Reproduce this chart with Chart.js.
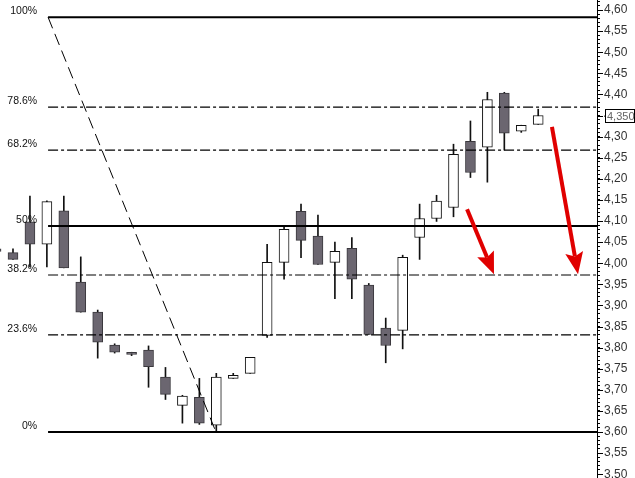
<!DOCTYPE html>
<html>
<head>
<meta charset="utf-8">
<script src="https://cdn.jsdelivr.net/npm/chart.js@4.4.1/dist/chart.umd.min.js"></script>
<style>
  html, body { margin: 0; padding: 0; background: #fff; }
  canvas { display: block; }
</style>
</head>
<body>
<canvas id="fibChart" width="635" height="478"></canvas>
<script>
// ----- Candles (bar number = array position, bar 0 is cut by the left edge) -----

const opens  = [4.034, 4.025, 4.098, 4.045, 4.124, 3.955, 3.884, 3.806, 3.789, 3.794, 3.730,
                3.663, 3.682, 3.616, 3.727, 3.739, 3.829, 4.002, 4.123, 4.064, 4.002, 4.035,
                3.948, 3.846, 3.841, 4.061, 4.106, 4.132, 4.289, 4.275, 4.403, 4.313, 4.329];
const highs  = [4.034, 4.034, 4.159, 4.148, 4.159, 4.015, 3.889, 3.809, 3.789, 3.804, 3.753,
                3.687, 3.727, 3.739, 3.739, 3.777, 4.045, 4.086, 4.140, 4.114, 4.050, 4.061,
                3.952, 3.870, 4.019, 4.140, 4.161, 4.282, 4.337, 4.405, 4.405, 4.327, 4.365];
const lows   = [4.028, 4.009, 3.991, 3.991, 3.989, 3.884, 3.775, 3.787, 3.781, 3.706, 3.677,
                3.621, 3.618, 3.601, 3.727, 3.739, 3.824, 3.962, 4.013, 3.997, 3.916, 3.916,
                3.831, 3.764, 3.797, 4.009, 4.099, 4.110, 4.203, 4.192, 4.268, 4.310, 4.329];
const closes = [4.028, 4.009, 4.045, 4.146, 3.989, 3.884, 3.813, 3.789, 3.784, 3.755, 3.689,
                3.685, 3.621, 3.730, 3.734, 3.777, 4.002, 4.080, 4.054, 3.997, 4.028, 3.962,
                3.831, 3.805, 4.014, 4.106, 4.147, 4.258, 4.215, 4.388, 4.308, 4.327, 4.350];

// ----- Fibonacci retracement -----

const fibLevels = [4.583, 4.370, 4.268, 4.088, 3.972, 3.830, 3.600];
const fibLabels = ["100%", "78.6%", "68.2%", "50%", "38.2%", "23.6%", "0%"];
const fibFromBar = 3.07;   // swing high anchor
const fibToBar   = 12.98;  // swing low anchor

// ----- Arrows (bar, price) -----

const arrowFrom = [[27.80, 4.128], [32.81, 4.323]];
const arrowTo   = [[29.39, 3.974], [34.35, 3.974]];

// ----- Right axis -----

const tickLabels = ["4,60", "4,55", "4,50", "4,45", "4,40", "4,35", "4,30", "4,25", "4,20",
                    "4,15", "4,10", "4,05", "4,00", "3,95", "3,90", "3,85", "3,80", "3,75",
                    "3,70", "3,65", "3,60", "3,55", "3,50"];
const lastPrice = 4.350;
const lastPriceLabel = "4,350";

const X_MIN = 0.233, X_MAX = 35.47;
const Y_MIN = 3.491, Y_MAX = 4.6237;
const DARK = "#6b6670";

const bars = opens.map((o, i) => i);

const overlay = {
  id: "overlay",
  afterDatasetsDraw(chart) {
    const { ctx, scales: { x, y } } = chart;
    ctx.save();

    //fib labels, left of the lines
    ctx.font = "10.5px 'Liberation Sans', Arial, sans-serif";
    ctx.fillStyle = "#111";
    ctx.textAlign = "right";
    ctx.textBaseline = "middle";
    const lx = x.getPixelForValue(fibFromBar) - 11;
    fibLevels.forEach((lv, i) => {
      ctx.fillText(fibLabels[i], lx, y.getPixelForValue(lv) - 6);
    });

    //red arrows
    ctx.strokeStyle = "#e00000";
    ctx.fillStyle = "#e00000";
    ctx.lineWidth = 4;
    arrowFrom.forEach((f, i) => {
      const x1 = x.getPixelForValue(f[0]), y1 = y.getPixelForValue(f[1]);
      const x2 = x.getPixelForValue(arrowTo[i][0]), y2 = y.getPixelForValue(arrowTo[i][1]);
      const a = Math.atan2(y2 - y1, x2 - x1);
      const head = 22, half = 9;
      const bx = x2 - head * Math.cos(a), by = y2 - head * Math.sin(a);
      ctx.beginPath();
      ctx.moveTo(x1, y1);
      ctx.lineTo(bx + 4 * Math.cos(a), by + 4 * Math.sin(a));
      ctx.stroke();
      ctx.beginPath();
      ctx.moveTo(x2, y2);
      ctx.lineTo(bx + half * Math.sin(a), by - half * Math.cos(a));
      ctx.lineTo(bx + 4 * Math.cos(a), by + 4 * Math.sin(a));
      ctx.lineTo(bx - half * Math.sin(a), by + half * Math.cos(a));
      ctx.closePath();
      ctx.fill();
    });
    ctx.restore();
  },
  afterDraw(chart) {
    const { ctx, chartArea, scales: { y } } = chart;
    ctx.save();
    //longer marks on the labelled ticks
    ctx.strokeStyle = "#000";
    ctx.lineWidth = 1;
    tickLabels.forEach(t => {
      const py = Math.round(y.getPixelForValue(parseFloat(t.replace(",", ".")))) + 0.5;
      ctx.beginPath();
      ctx.moveTo(chartArea.right, py);
      ctx.lineTo(chartArea.right + 6, py);
      ctx.stroke();
    });
    //last price box
    const py = Math.round(y.getPixelForValue(lastPrice));
    const bx = chartArea.right + 8.5;
    ctx.fillStyle = "#fff";
    ctx.fillRect(bx, py - 6.5, 29, 13);
    ctx.strokeRect(bx, py - 6.5, 29, 13);
    ctx.fillStyle = "#666";
    ctx.font = "11px 'Liberation Sans', Arial, sans-serif";
    ctx.textBaseline = "middle";
    ctx.textAlign = "left";
    ctx.fillText(lastPriceLabel, bx + 1.5, py + 0.5);
    ctx.restore();
  }
};

const datasets = [
  {
    label: "wicks",
    data: bars.map(i => ({ x: i, y: [lows[i], highs[i]] })),
    backgroundColor: "#111",
    borderWidth: 0,
    barThickness: 1,
    grouped: false,
    order: 3,
  },
  {
    label: "bodies",
    data: bars.map(i => ({ x: i, y: [opens[i], closes[i]] })),
    backgroundColor: bars.map(i => closes[i] >= opens[i] ? "#fff" : DARK),
    borderColor: bars.map(i => closes[i] >= opens[i] ? "#111" : "#3a383d"),
    borderWidth: 1,
    borderSkipped: false,
    barThickness: 10,
    grouped: false,
    order: 2,
  },
  {
    type: "line",
    label: "swing",
    data: [{ x: fibFromBar, y: fibLevels[0] }, { x: fibToBar, y: fibLevels[fibLevels.length - 1] }],
    borderColor: "#000",
    borderWidth: 1,
    borderDash: [12, 6],
    pointRadius: 0,
    order: 1,
  },
];

fibLevels.forEach((lv, i) => {
  const solid = ["100%", "50%", "0%"].includes(fibLabels[i]);
  datasets.push({
    type: "line",
    label: fibLabels[i],
    data: [{ x: fibFromBar, y: lv }, { x: X_MAX, y: lv }],
    borderColor: "#000",
    borderWidth: solid ? 2 : 1.2,
    borderDash: solid ? [] : [10, 3, 3, 3],
    pointRadius: 0,
    order: 0,
  });
});

document.addEventListener("DOMContentLoaded", () => {
  const ctx = document.getElementById("fibChart").getContext("2d");
  new Chart(ctx, {
    type: "bar",
    data: { datasets },
    plugins: [overlay],
    options: {
      responsive: false,
      animation: false,
      devicePixelRatio: 1,
      layout: { padding: 0 },
      plugins: { legend: { display: false }, tooltip: { enabled: false } },
      scales: {
        x: { type: "linear", display: false, min: X_MIN, max: X_MAX, offset: false },
        y: {
          position: "right",
          min: Y_MIN,
          max: Y_MAX,
          afterBuildTicks(scale) {
            const t = [];
            for (let c = 350; c <= 462; c++) t.push({ value: c / 100 });
            scale.ticks = t;
          },
          afterFit(scale) {
            scale.width = 38;
            scale.paddingTop = 0;
            scale.paddingBottom = 0;
          },
          grid: { drawOnChartArea: false, tickLength: 3, tickColor: "#000", tickWidth: 1 },
          border: { display: true, color: "#000", width: 1 },
          ticks: {
            autoSkip: false,
            padding: 4,
            color: "#333",
            font: { family: "'Liberation Sans', Arial, sans-serif", size: 12 },
            callback: v => {
              const s = v.toFixed(2).replace(".", ",");
              return tickLabels.includes(s) ? s : "";
            },
          },
        },
      },
    },
  });
});
</script>
</body>
</html>
